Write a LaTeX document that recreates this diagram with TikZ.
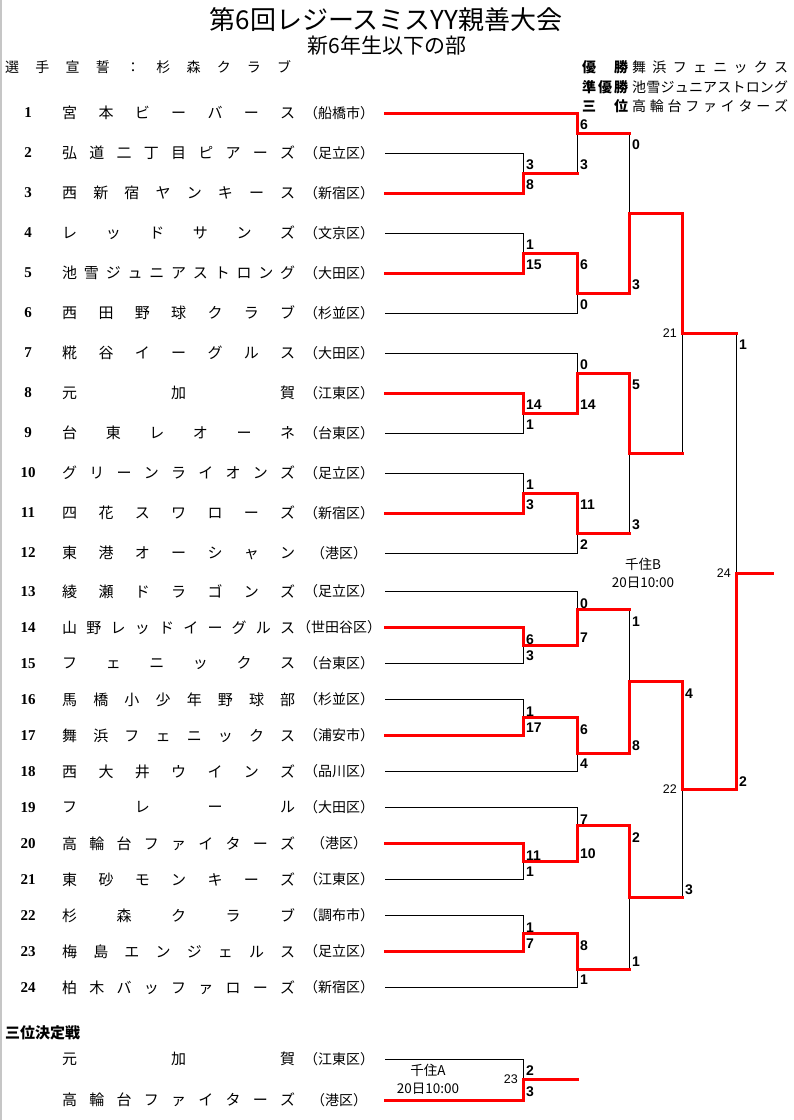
\documentclass[tikz,border=0pt]{standalone}
\usepackage{fontspec}
\usepackage{tikz}
\usetikzlibrary{positioning,calc}
\setmainfont{Liberation Serif}
\newfontfamily\jp{Noto Sans CJK JP}
\newfontfamily\lsans{Liberation Sans}

% letters of a name spread evenly over a fixed width
\def\spreadtext#1{\edef\spreadtmp{#1}\expandafter\spreadstep\spreadtmp\spreadend}
\def\spreadstep#1#2\spreadend{#1\ifx\relax#2\relax\else\hfill\spreadstep#2\spreadend\fi}
\newcommand{\spreadbox}[2]{\makebox[#1][l]{\spreadtext{#2}}}

\tikzset{
  seed/.style={font=\bfseries\fontsize{15}{15}\selectfont, inner sep=0pt},
  teamname/.style={font=\jp\fontsize{15}{15}\selectfont, anchor=west, inner sep=0pt},
  teamarea/.style={font=\jp\fontsize{14}{14}\selectfont, inner sep=0pt},
  lossline/.style={draw=black, line width=1pt},
  winline/.style={draw=red, line width=3pt, line cap=rect},
  upscore/.style={font=\lsans\bfseries\fontsize{14}{14}\selectfont, anchor=west, inner sep=0pt, xshift=3pt, yshift=-12pt},
  lowscore/.style={upscore, yshift=20pt},
  gameno/.style={font=\lsans\fontsize{12.5}{12.5}\selectfont, anchor=east, inner sep=0pt, xshift=-5pt},
  venue/.style={font=\jp\fontsize{13.5}{13.5}\selectfont, inner sep=0pt},
}

\begin{document}
\begin{tikzpicture}[x=1pt,y=-1pt]
  \useasboundingbox (0,0) rectangle (794,1120);
  \draw[gray!45, line width=2pt] (1,0) -- (1,1120);

  % headings
  \node[font=\jp\fontsize{26}{26}\selectfont, inner sep=0pt] (title) at (386,20) {第6回レジースミスYY親善大会};
  \node[font=\jp\fontsize{21}{21}\selectfont, inner sep=0pt] (subtitle) at (387,46) {新6年生以下の部};
  \node[teamname, font=\jp\fontsize{14}{14}\selectfont] (oath) at (5,67) {\spreadbox{286pt}{選手宣誓：杉森クラブ}};

  \foreach \k/\rank/\team/\ry in {1/優勝/舞浜フェニックス/67, 2/準優勝/池雪ジュニアストロング/87, 3/三位/高輪台ファイターズ/106}{
    \node[teamname, font=\jp\bfseries\fontsize{14}{14}\selectfont] (rank\k) at (582,\ry) {\spreadbox{46pt}{\rank}};
    \node[teamname, font=\jp\fontsize{14}{14}\selectfont] (prize\k) at (632,\ry) {\spreadbox{156pt}{\team}};
  }

  % teams
  \foreach \i/\team/\area in {1/宮本ビーバース/船橋市, 2/弘道二丁目ピアーズ/足立区,
      3/西新宿ヤンキース/新宿区, 4/レッドサンズ/文京区, 5/池雪ジュニアストロング/大田区,
      6/西田野球クラブ/杉並区, 7/糀谷イーグルス/大田区, 8/元加賀/江東区,
      9/台東レオーネ/台東区, 10/グリーンライオンズ/足立区, 11/四花スワローズ/新宿区,
      12/東港オーシャン/港区, 13/綾瀬ドラゴンズ/足立区, 14/山野レッドイーグルス/世田谷区,
      15/フェニックス/台東区, 16/馬橋小少年野球部/杉並区, 17/舞浜フェニックス/浦安市,
      18/西大井ウインズ/品川区, 19/フレール/大田区, 20/高輪台ファイターズ/港区,
      21/東砂モンキーズ/江東区, 22/杉森クラブ/調布市, 23/梅島エンジェルス/足立区,
      24/柏木バッファローズ/新宿区}{
    \pgfmathsetmacro{\ty}{\i<13 ? 113+40*(\i-1) : 591.5+36*(\i-13)}
    \node[seed] (n\i) at (28,\ty) {\i};
    \node[teamname] (t\i) at (62,\ty) {\spreadbox{233pt}{\team}};
    \node[teamarea] (a\i) at (339,\ty) {（\area）};
    \coordinate (e\i) at (385,\ty);
  }

  % third place
  \node[font=\jp\bfseries\fontsize{15}{15}\selectfont, anchor=west, inner sep=0pt] (thirdhead) at (5,1033) {三位決定戦};
  \node[teamname] (tA) at (62,1059) {\spreadbox{233pt}{元加賀}};
  \node[teamarea] (aA) at (339,1059) {（江東区）};
  \node[teamname] (tB) at (62,1100) {\spreadbox{233pt}{高輪台ファイターズ}};
  \node[teamarea] (aB) at (339,1100) {（港区）};
  \coordinate (ea) at (385,1059);
  \coordinate (eb) at (385,1100);

  % match points
  \coordinate (g1) at (523,173);   \coordinate (g2) at (577,133);
  \coordinate (g3) at (523,253);   \coordinate (g4) at (577,293);
  \coordinate (g5) at (629,213);
  \coordinate (g6) at (523,413);   \coordinate (g7) at (577,373);
  \coordinate (g8) at (523,493);   \coordinate (g9) at (577,533);
  \coordinate (g10) at (629,453);
  \coordinate (g11) at (523,645.5); \coordinate (g12) at (577,609.5);
  \coordinate (g13) at (523,717.5); \coordinate (g14) at (577,753.5);
  \coordinate (g15) at (629,681.5);
  \coordinate (g16) at (523,861.5); \coordinate (g17) at (577,825.5);
  \coordinate (g18) at (523,933.5); \coordinate (g19) at (577,969.5);
  \coordinate (g20) at (629,897.5);
  \coordinate (g21) at (682,333);  \coordinate (g22) at (682,789.5);
  \coordinate (g24) at (736,573);  \coordinate (champ) at (772,573);
  \coordinate (g23) at (523,1079); \coordinate (third) at (577,1079);

  % all lines
  \foreach \a/\b in {e2/g1,e3/g1,e1/g2,g1/g2,e4/g3,e5/g3,g3/g4,e6/g4,g2/g5,g4/g5,
      e8/g6,e9/g6,e7/g7,g6/g7,e10/g8,e11/g8,g8/g9,e12/g9,g7/g10,g9/g10,g5/g21,g10/g21,
      e14/g11,e15/g11,e13/g12,g11/g12,e16/g13,e17/g13,g13/g14,e18/g14,g12/g15,g14/g15,
      e20/g16,e21/g16,e19/g17,g16/g17,e22/g18,e23/g18,g18/g19,e24/g19,g17/g20,g19/g20,
      g15/g22,g20/g22,g21/g24,g22/g24,ea/g23,eb/g23}
    \draw[lossline] (\a) -| (\b);

  % winners
  \foreach \a/\b in {e3/g1,e1/g2,e5/g3,g3/g4,g4/g5,e8/g6,g6/g7,e11/g8,g8/g9,g7/g10,g5/g21,
      e14/g11,g11/g12,e17/g13,g13/g14,g14/g15,e20/g16,g16/g17,e23/g18,g18/g19,g17/g20,
      g15/g22,g22/g24,eb/g23}
    \draw[winline] (\a) -| (\b);
  \foreach \a/\b in {g1/g2,g2/g5,g9/g10,g10/g21,g12/g15,g19/g20,g20/g22,g21/g24}
    \draw[winline] (\a) -- (\a -| \b);
  \draw[winline] (g24) -- (champ);
  \draw[winline] (g23) -- (third);

  % scores
  \foreach \m/\u/\l/\su/\sl in {g1/e2/e3/3/8, g2/e1/g1/6/3, g3/e4/e5/1/15, g4/g3/e6/6/0,
      g5/g2/g4/0/3, g6/e8/e9/14/1, g7/e7/g6/0/14, g8/e10/e11/1/3, g9/g8/e12/11/2,
      g10/g7/g9/5/3, g11/e14/e15/6/3, g12/e13/g11/0/7, g13/e16/e17/1/17, g14/g13/e18/6/4,
      g15/g12/g14/1/8, g16/e20/e21/11/1, g17/e19/g16/7/10, g18/e22/e23/1/7,
      g19/g18/e24/8/1, g20/g17/g19/2/1, g22/g15/g20/4/3, g24/g21/g22/1/2, g23/ea/eb/2/3}{
    \node[upscore] (su\m) at (\u -| \m) {\su};
    \node[lowscore] (sl\m) at (\l -| \m) {\sl};
  }

  % game numbers and venues
  \foreach \g in {21,22,23,24}
    \node[gameno] (lab\g) at (g\g) {\g};
  \node[venue] (venueB) at (643,564) {千住B};
  \node[venue, below=6pt of venueB] (dateB) {20日10:00};
  \node[venue] (venueA) at (428,1070) {千住A};
  \node[venue, below=6pt of venueA] (dateA) {20日10:00};
\end{tikzpicture}
\end{document}
